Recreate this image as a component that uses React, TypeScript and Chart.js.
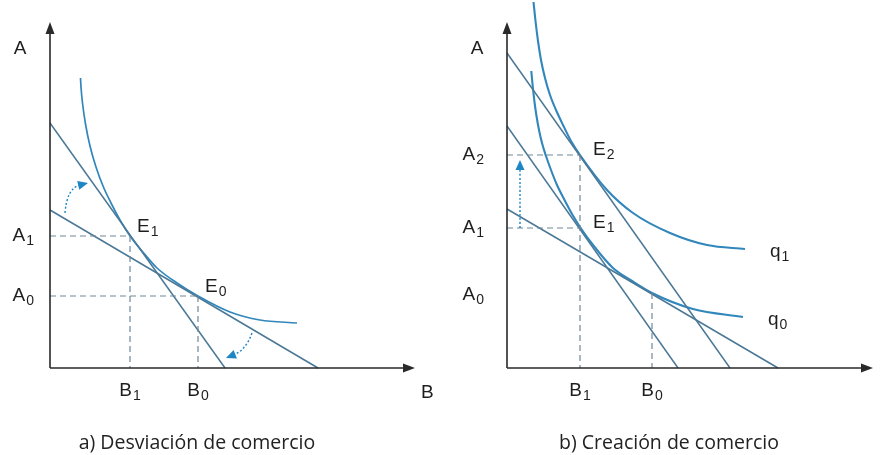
import React, { useEffect, useRef } from "react";
import { Chart, registerables } from "chart.js";

Chart.register(...registerables);

type P = [number, number];

// ---------- Panel a: Desviación de comercio ----------
const aIsoquant: P[] = [[30.5, 290], [31, 281], [32.5, 265], [35.5, 244], [40, 222], [46, 201], [53, 182], [61, 165], [70, 148], [80, 132], [92, 117], [107, 100], [127, 85], [148, 72], [180, 56], [210, 48], [247, 45]];
const aBudgetSteep: P[] = [[0, 245], [175, 0]];
const aBudgetFlat: P[] = [[0, 158], [268, 0]];
const aE1: P = [80, 132];
const aE0: P = [148, 72];
const aYTicks = [{ main: "A", sub: "1", value: 132 }, { main: "A", sub: "0", value: 72 }];
const aXTicks = [{ main: "B", sub: "1", value: 80 }, { main: "B", sub: "0", value: 148 }];
const aPointLabels = [{ main: "E", sub: "1", at: aE1 }, { main: "E", sub: "0", at: aE0 }];
const aArrows: { from: P; ctrl: P; to: P }[] = [
  { from: [15, 155], ctrl: [17, 180], to: [38, 185] },
  { from: [202, 35], ctrl: [196, 18], to: [176, 10] },
];

// ---------- Panel b: Creación de comercio ----------
const bIsoquantQ1: P[] = [[26.5, 366], [28.5, 347], [31, 327], [34, 308], [38, 290], [43, 273], [49, 258], [56, 243], [64, 227], [73, 213], [100, 178], [126, 155], [163, 135], [200, 123], [238, 119]];
const bIsoquantQ0: P[] = [[24.3, 297], [25.5, 284], [27.5, 266], [29.5, 252], [32, 238], [35, 225], [39, 212], [44, 198], [50, 183], [57, 169], [65, 154], [73, 141], [86, 123], [106, 100], [125, 87], [145, 75], [186, 59], [236, 51]];
const bBudget1: P[] = [[0, 315], [223, 0]];
const bBudget2: P[] = [[0, 242], [171, 0]];
const bBudget3: P[] = [[0, 159], [271, 0]];
const bE2: P = [73, 213];
const bE1: P = [73, 140];
const bE0: P = [145, 75];
const bYTicks = [{ main: "A", sub: "2", value: 213 }, { main: "A", sub: "1", value: 140 }, { main: "A", sub: "0", value: 73 }];
const bXTicks = [{ main: "B", sub: "1", value: 73 }, { main: "B", sub: "0", value: 145 }];
const bPointLabels = [{ main: "E", sub: "2", at: bE2 }, { main: "E", sub: "1", at: bE1 }];
const bCurveLabels = [{ main: "q", sub: "1", curve: bIsoquantQ1 }, { main: "q", sub: "0", curve: bIsoquantQ0 }];
const bArrows: { from: P; ctrl: P; to: P }[] = [{ from: [13, 140], ctrl: [13, 175], to: [13, 208] }];

const LINE = "#4b7896";
const CURVE = "#3187bc";
const DASH = "#6f8798";
const ARROW = "#1f86c6";
const AXIS = "#2a2a2a";
const FONT = "'Liberation Sans', Arial, sans-serif";

const toXY = (pts: P[]) => pts.map(([x, y]) => ({ x, y }));

function lineDs(pts: P[], color: string, width: number, curve = false) {
  return {
    data: toXY(pts),
    borderColor: color,
    borderWidth: width,
    pointRadius: 0,
    fill: false,
    clip: false as any,
    cubicInterpolationMode: curve ? ("monotone" as const) : ("default" as const),
    tension: 0,
  };
}

function dashDs(pts: P[]) {
  return {
    data: toXY(pts),
    borderColor: DASH,
    borderWidth: 1.2,
    borderDash: [6, 4],
    pointRadius: 0,
    fill: false,
    tension: 0,
  };
}

function guideLines(pt: P, horizontal = true, vertical = true) {
  const out: any[] = [];
  if (horizontal) out.push(dashDs([[0, pt[1]], pt]));
  if (vertical) out.push(dashDs([pt, [pt[0], 0]]));
  return out;
}

function drawSub(ctx: CanvasRenderingContext2D, main: string, sub: string, x: number, y: number, align: "left" | "center" | "right", size = 19) {
  ctx.save();
  ctx.fillStyle = "#1e1e1e";
  ctx.textBaseline = "middle";
  const subSize = Math.round(size * 0.74);
  ctx.font = `${size}px ${FONT}`;
  const w1 = ctx.measureText(main).width;
  ctx.font = `${subSize}px ${FONT}`;
  const w2 = ctx.measureText(sub).width;
  const total = w1 + 1 + w2;
  let x0 = x;
  if (align === "center") x0 = x - total / 2;
  if (align === "right") x0 = x - total;
  ctx.textAlign = "left";
  ctx.font = `${size}px ${FONT}`;
  ctx.fillText(main, x0, y);
  ctx.font = `${subSize}px ${FONT}`;
  ctx.fillText(sub, x0 + w1 + 1, y + 5);
  ctx.restore();
}

function arrowHead(ctx: CanvasRenderingContext2D, x: number, y: number, angle: number, len: number, half: number, color: string) {
  ctx.save();
  ctx.fillStyle = color;
  ctx.beginPath();
  ctx.moveTo(x, y);
  ctx.lineTo(x - len * Math.cos(angle) + half * Math.sin(angle), y - len * Math.sin(angle) - half * Math.cos(angle));
  ctx.lineTo(x - len * Math.cos(angle) - half * Math.sin(angle), y - len * Math.sin(angle) + half * Math.cos(angle));
  ctx.closePath();
  ctx.fill();
  ctx.restore();
}

type PanelSpec = {
  datasets: any[];
  xMax: number;
  yMax: number;
  padLeft: number;
  padRight: number;
  yTicks: { main: string; sub: string; value: number }[];
  yTickGap: number;
  xTicks: { main: string; sub: string; value: number }[];
  pointLabels: { main: string; sub: string; at: P }[];
  pointDx: number;
  pointDy: number;
  curveLabels: { main: string; sub: string; curve: P[] }[];
  arrows: { from: P; ctrl: P; to: P }[];
  yTitleDx: number;
};

function makePlugin(spec: PanelSpec) {
  return {
    id: "diagram",
    afterDatasetsDraw(chart: any) {
      const { ctx, chartArea, scales } = chart;
      const xs = scales.x;
      const ys = scales.y;
      const ox = xs.getPixelForValue(0);
      const oy = ys.getPixelForValue(0);
      const px = (p: P) => [xs.getPixelForValue(p[0]), ys.getPixelForValue(p[1])];

      // axes
      ctx.save();
      ctx.strokeStyle = AXIS;
      ctx.lineWidth = 1.6;
      ctx.beginPath();
      ctx.moveTo(ox, oy);
      ctx.lineTo(ox, chartArea.top + 6);
      ctx.moveTo(ox, oy);
      ctx.lineTo(chartArea.right - 6, oy);
      ctx.stroke();
      ctx.restore();
      arrowHead(ctx, ox, chartArea.top, -Math.PI / 2, 12, 4.5, AXIS);
      arrowHead(ctx, chartArea.right, oy, 0, 12, 4.5, AXIS);

      // annotation arrows
      for (const a of spec.arrows) {
        const [x0, y0] = px(a.from);
        const [cx, cy] = px(a.ctrl);
        const [x1, y1] = px(a.to);
        const ang = Math.atan2(y1 - cy, x1 - cx);
        const ex = x1 - 8 * Math.cos(ang);
        const ey = y1 - 8 * Math.sin(ang);
        ctx.save();
        ctx.strokeStyle = ARROW;
        ctx.lineWidth = 1.4;
        ctx.setLineDash([2, 2]);
        ctx.beginPath();
        ctx.moveTo(x0, y0);
        ctx.quadraticCurveTo(cx, cy, ex, ey);
        ctx.stroke();
        ctx.restore();
        arrowHead(ctx, x1, y1, ang, 10, 4.5, ARROW);
      }

      // axis titles
      ctx.save();
      ctx.fillStyle = "#1e1e1e";
      ctx.font = `19px ${FONT}`;
      ctx.textAlign = "center";
      ctx.textBaseline = "alphabetic";
      ctx.fillText("A", ox + spec.yTitleDx, chartArea.top + 32);
      ctx.textAlign = "left";
      ctx.fillText("B", chartArea.right + 6, oy + 30);
      ctx.restore();

      for (const t of spec.yTicks) drawSub(ctx, t.main, t.sub, ox - spec.yTickGap, ys.getPixelForValue(t.value), "right");
      for (const t of spec.xTicks) drawSub(ctx, t.main, t.sub, xs.getPixelForValue(t.value), oy + 23, "center");
      for (const l of spec.pointLabels) {
        const [x, y] = px(l.at);
        drawSub(ctx, l.main, l.sub, x + spec.pointDx, y + spec.pointDy, "left");
      }
      for (const l of spec.curveLabels) {
        const last = l.curve[l.curve.length - 1];
        const [x, y] = px(last);
        drawSub(ctx, l.main, l.sub, x + 25, y + 3, "left");
      }
    },
  };
}

function Panel({ spec, left }: { spec: PanelSpec; left: number }) {
  const ref = useRef<HTMLCanvasElement>(null);
  useEffect(() => {
    if (!ref.current) return;
    const chart = new Chart(ref.current, {
      type: "line",
      data: { datasets: spec.datasets },
      options: {
        responsive: false,
        maintainAspectRatio: false,
        devicePixelRatio: 1,
        animation: false,
        events: [],
        layout: { padding: { left: spec.padLeft, right: spec.padRight, top: 22, bottom: 87 } },
        scales: {
          x: { type: "linear", min: 0, max: spec.xMax, display: false },
          y: { type: "linear", min: 0, max: spec.yMax, display: false },
        },
        plugins: { legend: { display: false }, tooltip: { enabled: false } },
      },
      plugins: [makePlugin(spec)],
    });
    return () => chart.destroy();
  }, [spec]);
  return <canvas ref={ref} width={440} height={455} style={{ position: "absolute", left, top: 0, width: 440, height: 455 }} />;
}

const specA: PanelSpec = {
  datasets: [
    ...guideLines(aE1),
    ...guideLines(aE0),
    lineDs(aBudgetSteep, LINE, 1.5),
    lineDs(aBudgetFlat, LINE, 1.5),
    lineDs(aIsoquant, CURVE, 1.7, true),
  ],
  xMax: 365,
  yMax: 346,
  padLeft: 50,
  padRight: 25,
  yTicks: aYTicks,
  yTickGap: 16,
  xTicks: aXTicks,
  pointLabels: aPointLabels,
  pointDx: 7,
  pointDy: -9,
  curveLabels: [],
  arrows: aArrows,
  yTitleDx: -30,
};

const specB: PanelSpec = {
  datasets: [
    ...guideLines(bE2),
    dashDs([[0, bE1[1]], bE1]),
    ...guideLines(bE0, false, true),
    lineDs(bBudget1, LINE, 1.5),
    lineDs(bBudget2, LINE, 1.5),
    lineDs(bBudget3, LINE, 1.5),
    lineDs(bIsoquantQ1, CURVE, 2.1, true),
    lineDs(bIsoquantQ0, CURVE, 2.1, true),
  ],
  xMax: 366,
  yMax: 346,
  padLeft: 67,
  padRight: 7,
  yTicks: bYTicks,
  yTickGap: 23,
  xTicks: bXTicks,
  pointLabels: bPointLabels,
  pointDx: 13,
  pointDy: -5,
  curveLabels: bCurveLabels,
  arrows: bArrows,
  yTitleDx: -30,
};

const captionStyle: React.CSSProperties = {
  position: "absolute",
  top: 429,
  width: 440,
  textAlign: "center",
  fontFamily: "'Open Sans', sans-serif",
  fontSize: 19.5,
  color: "#222",
  lineHeight: "26px",
};

export default function App() {
  return (
    <div style={{ position: "absolute", left: 0, top: 0, width: 880, height: 455, background: "#fff", overflow: "hidden" }}>
      <Panel spec={specA} left={0} />
      <Panel spec={specB} left={440} />
      <div style={{ ...captionStyle, left: -23 }}>a) Desviación de comercio</div>
      <div style={{ ...captionStyle, left: 449 }}>b) Creación de comercio</div>
    </div>
  );
}
